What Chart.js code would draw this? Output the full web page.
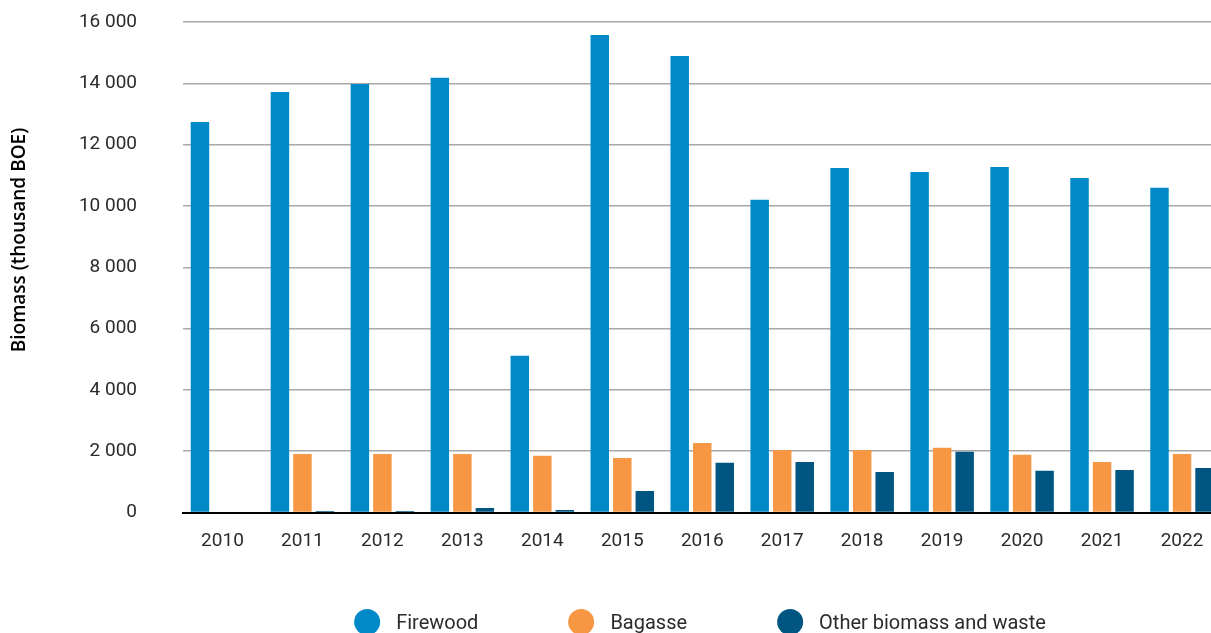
<!DOCTYPE html>
<html>
<head>
<meta charset="utf-8">
<script src="https://cdn.jsdelivr.net/npm/chart.js@4"></script>
<style>
  html, body { margin: 0; padding: 0; overflow: hidden; background: #fff; }
  #wrap { position: relative; width: 1222px; height: 633px; }
  #leyenda {
    position: absolute; top: 609px; left: 700px; transform: translateX(-50%);
    display: flex; gap: 90px; white-space: nowrap;
    font-family: Roboto, sans-serif; font-size: 20px; color: #2b2b2b;
  }
  #leyenda .item { display: flex; align-items: center; }
  #leyenda .punto { width: 26px; height: 26px; border-radius: 50%; margin-right: 16px; }
</style>
</head>
<body>
<div id="wrap">
  <canvas id="myChart"></canvas>
  <div id="leyenda"></div>
</div>
<script>
// datos
const anios = ["2010", "2011", "2012", "2013", "2014", "2015", "2016", "2017", "2018", "2019", "2020", "2021", "2022"];
const lena = [12740, 13720, 13980, 14180, 5110, 15580, 14890, 10200, 11240, 11110, 11270, 10910, 10590];
const bagazo = [0, 1910, 1910, 1910, 1850, 1780, 2270, 2040, 2040, 2110, 1880, 1650, 1910];
const otros = [0, 50, 50, 150, 80, 700, 1620, 1650, 1320, 1980, 1360, 1390, 1450];
const nombres = ["Firewood", "Bagasse", "Other biomass and waste"];
const colores = ["#0089C8", "#F79743", "#005581"];
const tituloY = "Biomass (thousand BOE)";

const formatoMiles = (v) => String(v).replace(/\B(?=(\d{3})+(?!\d))/g, " ");

// titulo del eje y dibujado a mano (va un poco por encima del centro)
const tituloEjeY = {
  id: "tituloEjeY",
  afterDraw(chart) {
    const ctx = chart.ctx;
    ctx.save();
    ctx.translate(20, 240);
    ctx.rotate(-Math.PI / 2);
    ctx.font = "600 19px 'Open Sans', sans-serif";
    ctx.fillStyle = "#000";
    ctx.textAlign = "center";
    ctx.textBaseline = "middle";
    ctx.fillText(tituloY, 0, 0);
    ctx.restore();
  }
};

const series = [lena, bagazo, otros];
const data = {
  labels: anios,
  datasets: series.map((s, i) => ({
    label: nombres[i],
    data: s,
    backgroundColor: colores[i],
    categoryPercentage: 0.845,
    barPercentage: 0.82
  }))
};

const options = {
  responsive: true,
  maintainAspectRatio: false,
  animation: false,
  layout: { padding: { top: 22, right: 0, bottom: 70.5, left: 0 } },
  plugins: {
    legend: { display: false },
    tooltip: { enabled: false }
  },
  scales: {
    x: {
      grid: { display: false, drawTicks: false },
      border: { color: "#000", width: 2 },
      ticks: {
        padding: 17,
        color: "#2b2b2b",
        font: { family: "Roboto, sans-serif", size: 19 }
      },
      afterFit: (scale) => { scale.height = 50; }
    },
    y: {
      min: 0,
      max: 16000,
      grid: { color: "#a8a8a8", lineWidth: 1.5, drawTicks: false },
      border: { display: false },
      ticks: {
        stepSize: 2000,
        padding: 45.5,
        color: "#2b2b2b",
        font: { family: "Roboto, sans-serif", size: 19 },
        callback: (v) => formatoMiles(v)
      },
      afterFit: (scale) => {
        scale.width = 182.5;
        scale.paddingTop = 0;
        scale.paddingBottom = 0;
      }
    }
  }
};

const myChart = new Chart("myChart", { type: "bar", data, options, plugins: [tituloEjeY] });

// leyenda en html a partir de los datasets
const leyenda = document.getElementById("leyenda");
myChart.data.datasets.forEach((ds) => {
  const item = document.createElement("div");
  item.className = "item";
  const punto = document.createElement("span");
  punto.className = "punto";
  punto.style.background = ds.backgroundColor;
  const txt = document.createElement("span");
  txt.textContent = ds.label;
  item.appendChild(punto);
  item.appendChild(txt);
  leyenda.appendChild(item);
});
</script>
</body>
</html>
